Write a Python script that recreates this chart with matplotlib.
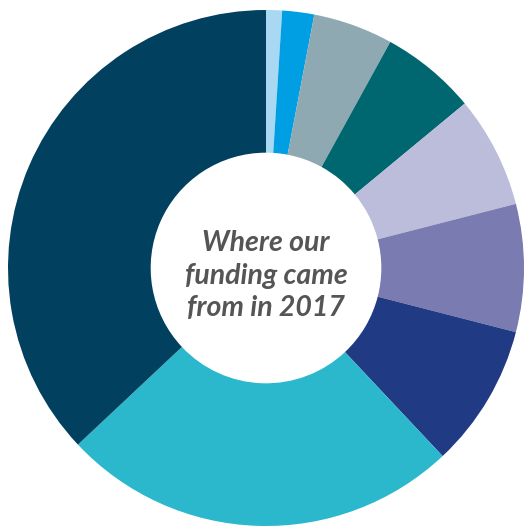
import matplotlib.pyplot as plt

# slices clockwise from 12 o'clock (share of funding, %)
shares = [1, 2, 5, 6, 7, 8, 9, 25, 37]
colors = ['#a8d8f2', '#009fe3', '#8fa9b2', '#006770', '#bcbcdb',
          '#7a7bb0', '#213a84', '#2bb8cc', '#02405f']
title = "Where our\nfunding came\nfrom in 2017"

fig = plt.figure(figsize=(5.26, 5.28), dpi=100)
ax = fig.add_axes([0, 0, 1, 1])
ax.pie(shares, colors=colors, startangle=90, counterclock=False,
       radius=1.0, wedgeprops=dict(width=0.553, linewidth=0))
ax.text(0.0, -0.03, title, ha='center', va='center', fontsize=20.5,
        family=['Lato', 'DejaVu Sans'], style='italic', weight='bold',
        color='#555555', linespacing=1.3)
ax.set_xlim(-266 / 258, 260 / 258)
ax.set_ylim(-260 / 258, 268 / 258)
ax.set_aspect('equal')
ax.axis('off')
fig.savefig('out.png', dpi=100)
